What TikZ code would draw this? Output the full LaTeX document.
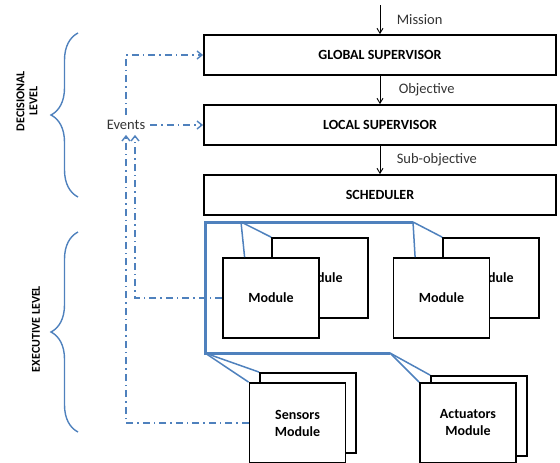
\documentclass[tikz,border=0pt]{standalone}
\usepackage{fontspec}
\setmainfont{Carlito}
\usetikzlibrary{positioning, arrows.meta, decorations.pathreplacing, calc}
\definecolor{offblue}{RGB}{79,129,189}

\begin{document}
\begin{tikzpicture}[
    x=1pt, y=-1pt,
    level/.style={
        rectangle,
        draw=black,
        line width=1.8pt,
        minimum width=352pt,
        minimum height=40pt,
        font=\fontsize{14}{16}\selectfont\bfseries
    },
    module/.style={
        rectangle,
        draw=black,
        fill=white,
        line width=1.8pt,
        minimum width=96pt,
        minimum height=80pt,
        align=center,
        font=\fontsize{14}{17}\selectfont\bfseries
    },
    flow/.style={-{Straight Barb[length=5pt, width=6pt]}, line width=0.9pt},
    flowlabel/.style={font=\fontsize{14.5}{16}\selectfont, text=black!80},
    event/.style={offblue, line width=1.4pt, dash pattern=on 7pt off 4pt on 1.5pt off 4pt},
    eventarrow/.style={event, -{Straight Barb[length=5pt, width=8pt]}},
    frame/.style={offblue, line width=3pt},
    link/.style={offblue, line width=1.5pt},
    brace/.style={offblue, line width=1.4pt, decorate, decoration={brace, amplitude=27pt, aspect=0.5}},
    levellabel/.style={rotate=90, align=center, font=\fontsize{12}{13}\selectfont\bfseries}
]
\useasboundingbox (0,0) rectangle (560,463);

% === Decisional level ===
\node[level] (gs) at (380, 55) {GLOBAL SUPERVISOR};
\node[level] (ls) at (380, 125) {LOCAL SUPERVISOR};
\node[level] (sched) at (380, 195) {SCHEDULER};
\coordinate (mission) at (380, 5);

\draw[flow] (mission) -- (gs.north) node[midway, right=13pt, flowlabel] {Mission};
\draw[flow] (gs.south) -- (ls.north) node[midway, right=15pt, flowlabel] {Objective};
\draw[flow] (ls.south) -- (sched.north) node[midway, right=13pt, flowlabel] {Sub-objective};

% === Executive level ===
\coordinate (ftop) at (205, 222);
\coordinate (fbot) at (205, 353);
\coordinate (ftopend) at (413, 222);
\coordinate (fbotend) at (390, 353);
\coordinate (fleft) at (241, 222);
\draw[frame] (ftopend) -- (ftop) -- (fbot) -- (fbotend);

\node[module] (m1back) at (320, 278) {Module};
\node[module] (m2back) at (491, 278) {Module};
\node[module] (sensback) at (308, 413) {};
\node[module] (actback) at (479, 416) {};

\draw[link] (fleft) -- (m1back.north west);
\draw[link] (ftopend) -- (m2back.north west);
\draw[link] (fbot) -- (sensback.north west);
\draw[link] (fbotend) -- (actback.north west);

\node[module] (m1) at (271, 298) {Module};
\node[module] (m2) at (441.5, 298) {Module};
\node[module] (sens) at (297.5, 423) {Sensors\\Module};
\node[module] (act) at (468, 423) {Actuators\\Module};

\draw[link] (fleft) -- ($(m1.north west)!0.23!(m1.north east)$);
\draw[link] (ftopend) -- ($(m2.north west)!0.23!(m2.north east)$);
\draw[link] (fbot) -- (sens.north west);
\draw[link] (fbotend) -- (act.north west);

% === Events ===
\node[flowlabel, inner sep=5pt] (events) at (126, 125) {Events};
\draw[eventarrow] (events.north) |- (gs.west);
\draw[eventarrow] (events.east) -- (ls.west);
\draw[eventarrow] (m1.west) -| ([xshift=9pt]events.south);
\draw[eventarrow] (sens.west) -| (events.south);

% === Levels ===
\draw[brace] (78, 197) -- (78, 33);
\draw[brace] (78, 432) -- (78, 232);
\node[levellabel] (declabel) at (27, 101) {DECISIONAL\\LEVEL};
\node[levellabel] (exelabel) at (36, 329) {EXECUTIVE LEVEL};

\end{tikzpicture}
\end{document}
